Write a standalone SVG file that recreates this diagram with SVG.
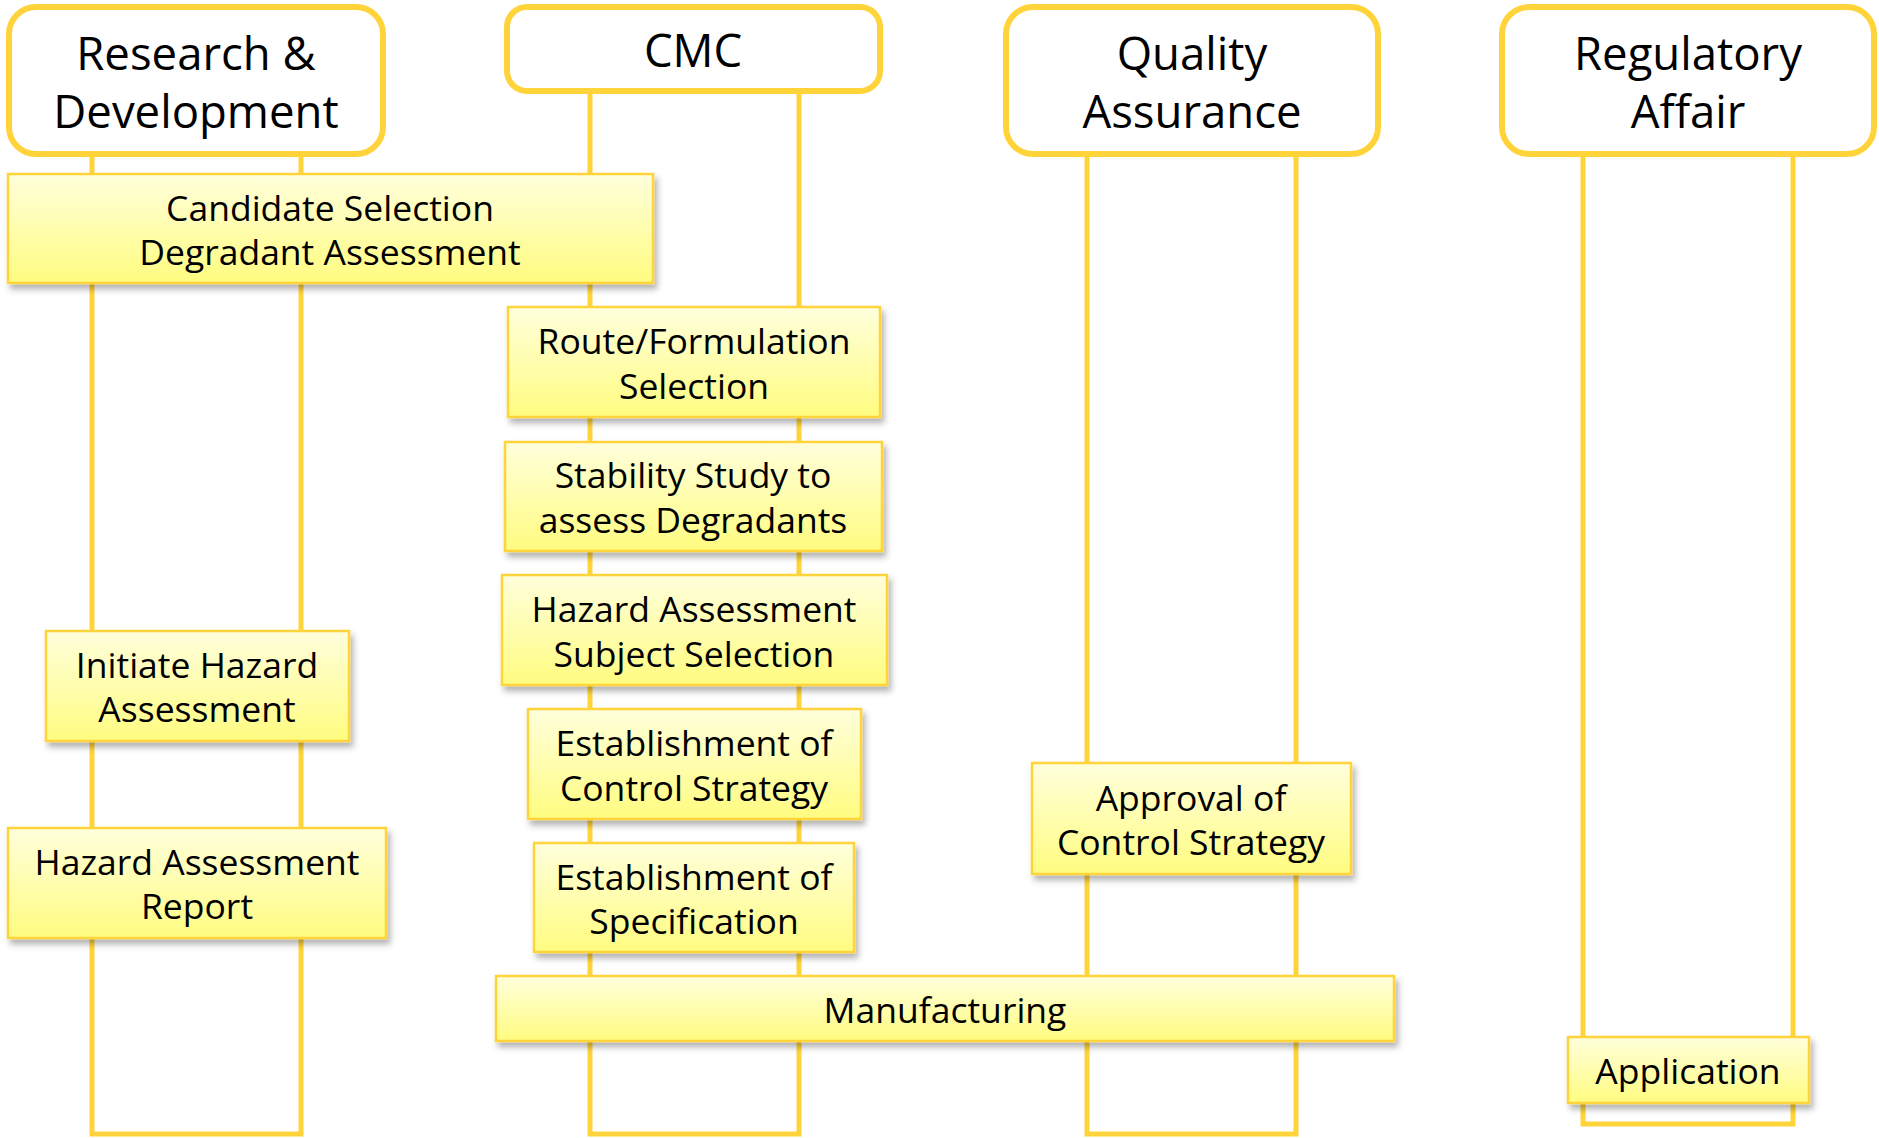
<svg xmlns="http://www.w3.org/2000/svg" width="1879" height="1138" viewBox="0 0 1879 1138">
  <defs>
    <linearGradient id="taskFill" x1="0" y1="0" x2="0" y2="1">
      <stop offset="0" stop-color="#FFFFDC"/>
      <stop offset="1" stop-color="#FFFC80"/>
    </linearGradient>
    <filter id="shadow" x="-10%" y="-20%" width="125%" height="150%">
      <feDropShadow dx="3" dy="5" stdDeviation="3" flood-color="#000" flood-opacity="0.3"/>
    </filter>
  </defs>
  <style>
    .lane { fill: none; stroke: #FFD43B; stroke-width: 5; }
    .head rect { fill: #FFFFFF; stroke: #FFD43B; stroke-width: 6; }
    .head text { font-family: "Open Sans", "Noto Sans", sans-serif; font-size: 45.5px; fill: #000; text-anchor: middle; }
    .task rect { fill: url(#taskFill); stroke: #FFD43B; stroke-width: 2.5; filter: url(#shadow); }
    .task text { font-family: "Open Sans", "Noto Sans", sans-serif; font-size: 35.5px; fill: #000; text-anchor: middle; }
  </style>
  <rect width="1879" height="1138" fill="#FFFFFF"/>

  <!-- swimlane rails -->
  <g id="lanes">
    <rect class="lane" x="92" y="140" width="209" height="994"/>
    <rect class="lane" x="590" y="80" width="209" height="1054"/>
    <rect class="lane" x="1087" y="140" width="209" height="994"/>
    <rect class="lane" x="1583" y="140" width="210" height="984"/>
  </g>

  <!-- lane headers -->
  <g id="head-rd" class="head">
    <rect x="9" y="7" width="374" height="147" rx="27"/>
    <text x="196" y="70">Research &amp;</text>
    <text x="196" y="128">Development</text>
  </g>
  <g id="head-cmc" class="head">
    <rect x="507" y="7" width="373" height="84" rx="20"/>
    <text x="693" y="67">CMC</text>
  </g>
  <g id="head-qa" class="head">
    <rect x="1006" y="7" width="372" height="147" rx="27"/>
    <text x="1192" y="70">Quality</text>
    <text x="1192" y="128">Assurance</text>
  </g>
  <g id="head-ra" class="head">
    <rect x="1502" y="7" width="372" height="147" rx="27"/>
    <text x="1688" y="70">Regulatory</text>
    <text x="1688" y="128">Affair</text>
  </g>

  <!-- activities -->
  <g id="candidate-selection" class="task">
    <rect x="8" y="174" width="645" height="109"/>
    <text x="330" y="220.5">Candidate Selection</text>
    <text x="330" y="264.5">Degradant Assessment</text>
  </g>
  <g id="route-formulation" class="task">
    <rect x="508" y="307" width="372" height="110"/>
    <text x="694" y="353.5">Route/Formulation</text>
    <text x="694" y="398.5">Selection</text>
  </g>
  <g id="stability-study" class="task">
    <rect x="505" y="442" width="377" height="109"/>
    <text x="693" y="487.5">Stability Study to</text>
    <text x="693" y="532.5">assess Degradants</text>
  </g>
  <g id="hazard-subject" class="task">
    <rect x="502" y="575" width="385" height="110"/>
    <text x="694" y="621.5">Hazard Assessment</text>
    <text x="694" y="666.5">Subject Selection</text>
  </g>
  <g id="initiate-hazard" class="task">
    <rect x="46" y="631" width="303" height="110"/>
    <text x="197" y="677.5">Initiate Hazard</text>
    <text x="197" y="721.5">Assessment</text>
  </g>
  <g id="control-strategy" class="task">
    <rect x="528" y="709" width="333" height="110"/>
    <text x="694" y="755.5">Establishment of</text>
    <text x="694" y="800.5">Control Strategy</text>
  </g>
  <g id="approval" class="task">
    <rect x="1032" y="763" width="319" height="111"/>
    <text x="1191" y="810.5">Approval of</text>
    <text x="1191" y="854.5">Control Strategy</text>
  </g>
  <g id="hazard-report" class="task">
    <rect x="8" y="828" width="378" height="110"/>
    <text x="197" y="874.5">Hazard Assessment</text>
    <text x="197" y="918.5">Report</text>
  </g>
  <g id="specification" class="task">
    <rect x="534" y="843" width="320" height="109"/>
    <text x="694" y="889.5">Establishment of</text>
    <text x="694" y="933.5">Specification</text>
  </g>
  <g id="manufacturing" class="task">
    <rect x="496" y="976" width="898" height="65"/>
    <text x="945" y="1022.5">Manufacturing</text>
  </g>
  <g id="application" class="task">
    <rect x="1568" y="1037" width="241" height="66"/>
    <text x="1688" y="1083.5">Application</text>
  </g>
</svg>
